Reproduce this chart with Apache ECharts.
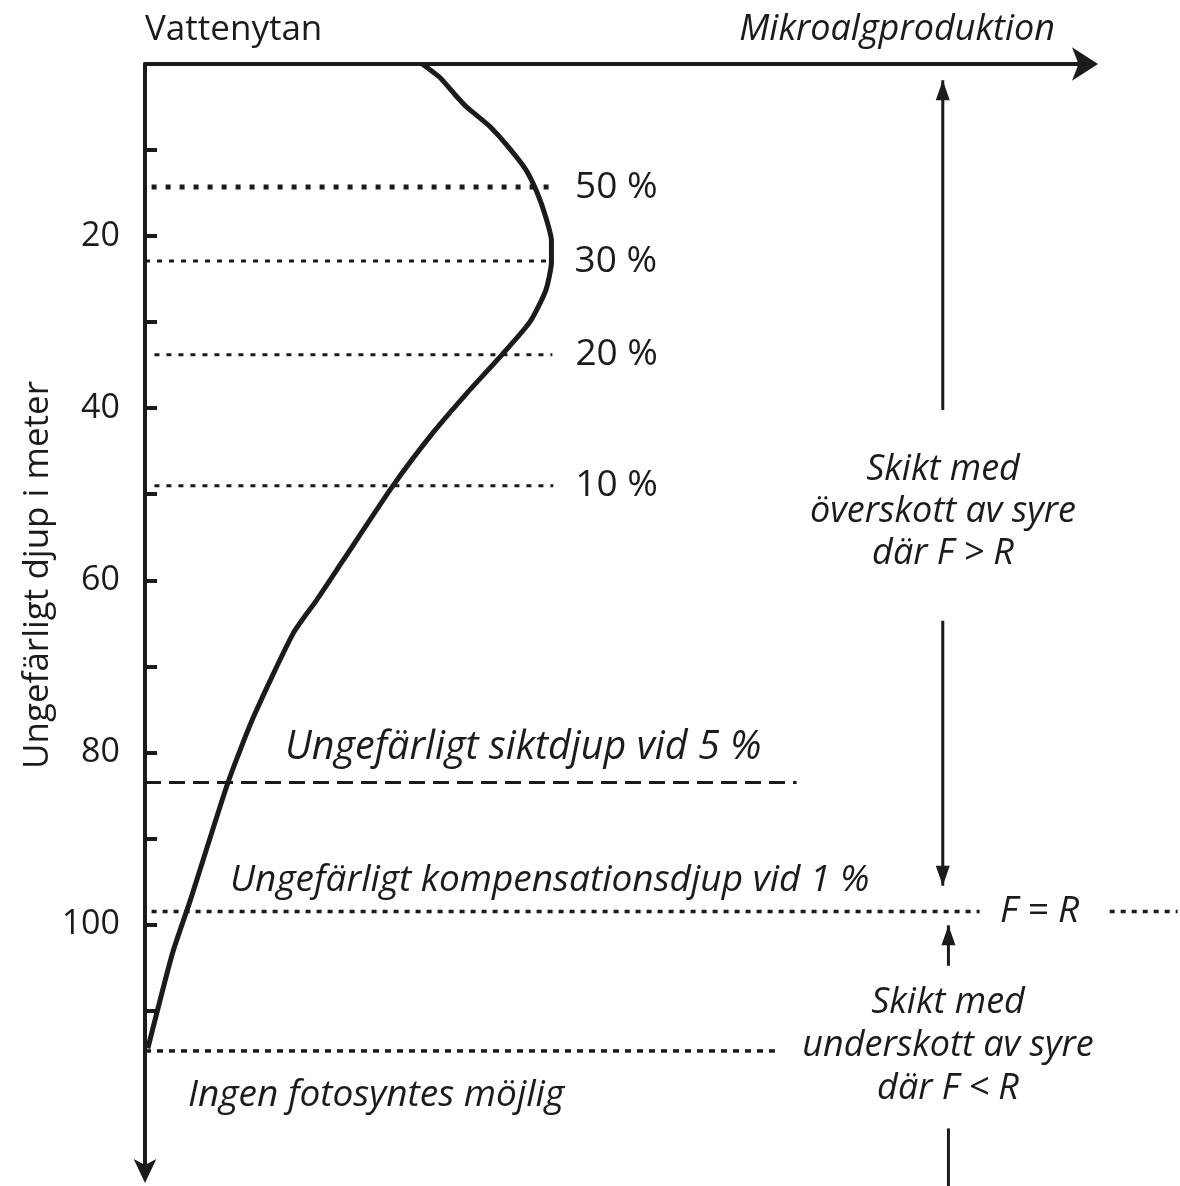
<!DOCTYPE html>
<html><head><meta charset="utf-8">
<script src="https://cdn.jsdelivr.net/npm/echarts@6/dist/echarts.min.js"></script>
<style>html,body{margin:0;padding:0;background:#fff}#c{width:1180px;height:1186px}</style>
</head><body><div id="c"></div>
<script>
// Production curve (relative units) versus depth (m)
const curveProduction = [29.4, 31.3, 32.9, 34.1, 35.2, 36.6, 38.5, 40.4, 41.6, 42.5, 43.1, 43.1, 42.5, 40.8, 37.6, 34.1, 30.5, 26.3, 21.0, 18.2, 15.7, 11.5, 8.8, 4.8, 2.9, 0.3];
const curveDepth      = [0,    1.6,  3.6,  5.0,  6.0,  7.3,  9.6,  12.3, 15.0, 17.8, 20.5, 23.0, 26.3, 30.0, 34.1, 38.3, 42.9, 49.0, 57.7, 62.3, 66.2, 75.9, 83.5, 97.2, 103.4, 114.4];

// Light levels
const lightNames  = ['50 %', '30 %', '20 %', '10 %'];
const lightDepths = [14.3, 22.9, 33.8, 49.0];
const lightStartX = [0.7, 0.0, 1.0, 1.0];
const lightEndX   = [43.7, 42.9, 43.2, 43.3];

// Reference depths
const secchiDepth = 83.5;        const secchiX = [0, 69.1];
const compDepth = 98.5;          const compX = [0.7, 88.5];  const compX2 = [102.3, 109.5];
const noPhotoDepth = 114.7;      const noPhotoX = [0, 66.8];

// Layer arrows: [x, fromDepth, toDepth]
const arrowUpper1 = [84.6, 40.2, 1.9];
const arrowUpper2 = [84.6, 64.7, 95.5];
const arrowLower1 = [85.2, 104.8, 100.1];
const arrowLower2 = [85.2, 123.7, 130.5];

const yTicks = [10, 20, 30, 40, 50, 60, 70, 80, 90, 100, 110];
const yLabels = [20, 40, 60, 80, 100];

const FONT = 'Open Sans';
const INK = '#1b1b1b';
const PX_PER_X = 9.43;

const chart = echarts.init(document.getElementById('c'), null, {renderer: 'canvas'});

function hLine(name, x0, x1, d, width, dash, gridIdx) {
  return {
    type: 'line', name: name, clip: false, silent: true, symbol: 'none',
    xAxisIndex: gridIdx || 0, yAxisIndex: gridIdx || 0,
    data: [[x0, d], [x1, d]],
    lineStyle: {color: INK, width: width, type: dash, cap: 'butt'},
    z: 2
  };
}
function arrowLine(a, headSize) {
  return {
    type: 'line', clip: false, silent: true, showSymbol: true,
    data: [
      {value: [a[0], a[1]], symbol: 'none'},
      {value: [a[0], a[2]], symbol: headSize ? 'triangle' : 'none', symbolSize: [14, headSize], symbolOffset: [0, a[2] > a[1] ? '-50%' : '50%'], symbolRotate: a[2] > a[1] ? 180 : 0}
    ],
    lineStyle: {color: INK, width: 3},
    itemStyle: {color: INK},
    z: 3
  };
}

const series = [];
series.push({
  type: 'line', name: 'curve', clip: false, silent: true, symbol: 'none', smooth: 0.2,
  data: curveProduction.map((v, i) => [v, curveDepth[i]]),
  lineStyle: {color: INK, width: 5},
  z: 5
});
const labelGap = [18, 25, 23, 22];
lightNames.forEach((n, i) => {
  const s = hLine(n, lightStartX[i], lightEndX[i], lightDepths[i], i === 0 ? 5 : 3, i === 0 ? [5, 9] : [5, 7]);
  s.endLabel = {show: true, formatter: '{a}', distance: labelGap[i], fontFamily: FONT, fontSize: 37, color: INK};
  series.push(s);
});
series.push(hLine('siktdjup', secchiX[0], secchiX[1], secchiDepth, 3, [16, 8]));
series.push(hLine('komp', compX[0], compX[1], compDepth, 3.5, [5, 6]));
series.push(hLine('komp2', compX2[0], compX2[1], compDepth, 3.5, [5, 6], 1));
series.push(hLine('ingen', noPhotoX[0], noPhotoX[1], noPhotoDepth, 3.5, [6, 6]));
series.push(arrowLine(arrowUpper1, 20));
series.push(arrowLine(arrowUpper2, 20));
series.push(arrowLine(arrowLower1, 20));
series.push(arrowLine(arrowLower2, 0));

const italic = {fontFamily: FONT, fontStyle: 'italic', fontSize: 37, fill: INK};
function txt(x, y, text, extra, rot) {
  return {type: 'text', x: x, y: y, silent: true, rotation: rot || 0,
    style: Object.assign({text: text, verticalAlign: 'middle'}, italic, extra || {})};
}

const gridLeft = 145, gridRight = 92;
const fullWidthX = (1180 - gridLeft) / PX_PER_X;

chart.setOption({
  animation: false,
  backgroundColor: '#fff',
  grid: [
    {left: gridLeft, top: 64, right: gridRight, bottom: 12, containLabel: false},
    {left: gridLeft, top: 64, right: 0, bottom: 12, containLabel: false}
  ],
  xAxis: [{
    type: 'value', position: 'top', min: 0, max: 100, gridIndex: 0,
    axisLine: {show: true, onZero: false, symbol: ['none', 'arrow'], symbolSize: [25, 26], symbolOffset: [0, 10], lineStyle: {color: INK, width: 4}},
    axisTick: {show: false}, axisLabel: {show: false}, splitLine: {show: false}
  }, {
    type: 'value', gridIndex: 1, min: 0, max: fullWidthX, show: false
  }],
  yAxis: [{
    type: 'value', inverse: true, min: 0, max: 129, gridIndex: 0,
    axisLine: {show: true, onZero: false, symbol: ['arrow', 'none'], symbolSize: [17, 24], symbolOffset: [-9, 0], lineStyle: {color: INK, width: 4}},
    axisTick: {show: true, inside: true, length: 12, customValues: yTicks, lineStyle: {color: INK, width: 4}},
    axisLabel: {show: true, customValues: yLabels, margin: 25, fontFamily: FONT, fontSize: 34, color: INK},
    splitLine: {show: false}
  }, {
    type: 'value', inverse: true, min: 0, max: 129, gridIndex: 1, show: false
  }],
  series: series,
  graphic: [
    txt(145, 30, 'Vattenytan', {fontStyle: 'normal', fontSize: 35}),
    txt(1055, 30, 'Mikroalgproduktion', {align: 'right', fontSize: 36}),
    txt(38, 575, 'Ungefärligt djup i meter', {fontStyle: 'normal', fontSize: 35, align: 'center'}, Math.PI / 2),
    txt(285, 748, 'Ungefärligt siktdjup vid 5 %', {fontSize: 39.5}),
    txt(230, 880, 'Ungefärligt kompensationsdjup vid 1 %'),
    txt(1000, 911, 'F = R'),
    txt(188, 1095, 'Ingen fotosyntes möjlig'),
    txt(943, 512, 'Skikt med\növerskott av syre\ndär F > R', {align: 'center', lineHeight: 42, fontSize: 36}),
    txt(948, 1046, 'Skikt med\nunderskott av syre\ndär F < R', {align: 'center', lineHeight: 43, fontSize: 36})
  ]
});
</script>
</body></html>
